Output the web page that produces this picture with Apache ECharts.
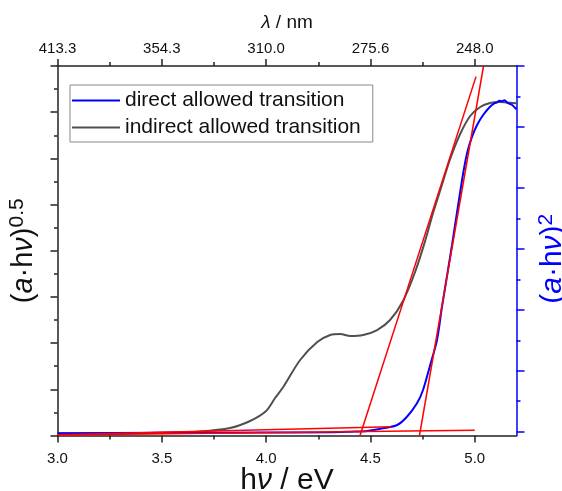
<!DOCTYPE html>
<html><head><meta charset="utf-8">
<script src="https://cdn.jsdelivr.net/npm/echarts@6/dist/echarts.min.js"></script>
<style>html,body{margin:0;padding:0;background:#fff}#c{width:562px;height:491px}</style>
</head><body><div id="c"></div>
<script>
const xMajor = [3.0, 3.5, 4.0, 4.5, 5.0];
const xMinor = [3.25, 3.75, 4.25, 4.75];
const topLabels = ['413.3', '354.3', '310.0', '275.6', '248.0'];
const rightMajor = [0, 1, 2, 3, 4, 5, 6];
const rightMinor = [0.5, 1.5, 2.5, 3.5, 4.5, 5.5];

// indirect allowed transition, (a·hν)^0.5 (left axis)
const indirectX = [3.000,3.252,3.501,3.683,3.827,3.923,4.000,4.043,4.082,4.163,4.245,4.307,4.355,4.403,4.465,4.532,4.594,4.656,4.714,4.762,4.800,4.838,4.882,4.930,4.978,5.026,5.073,5.121,5.169,5.200];
const indirectY = [0.043,0.048,0.058,0.087,0.162,0.314,0.530,0.812,1.050,1.635,2.024,2.176,2.197,2.154,2.176,2.284,2.500,2.912,3.540,4.211,4.817,5.358,5.986,6.527,6.917,7.112,7.199,7.220,7.205,7.192];
// direct allowed transition, (a·hν)^2 (right axis)
const directX = [3.000,3.490,3.970,4.307,4.403,4.484,4.560,4.628,4.675,4.723,4.752,4.784,4.819,4.843,4.891,4.939,4.963,4.987,5.011,5.040,5.073,5.095,5.107,5.118,5.131,5.143,5.155,5.179,5.200];
const directY = [-0.026,-0.018,-0.013,-0.010,0.000,0.012,0.056,0.110,0.246,0.466,0.685,1.067,1.505,2.051,3.064,4.130,4.568,4.840,5.032,5.196,5.332,5.390,5.405,5.430,5.421,5.440,5.398,5.360,5.290];
// fit lines
const indTanX = [4.45, 5.006], indTanY = [0, 7.77];
const indBaseX = [3.0, 4.6], indBaseY = [0.017, 0.190];
const dirTanX = [4.735, 5.042], dirTanY = [-0.062, 6.0];
const dirBaseX = [3.0, 5.0], dirBaseY = [-0.054, 0.025];

const pairs = (xs, ys) => xs.map((x, i) => [x, ys[i]]);
const FF = 'Liberation Sans, Arial, sans-serif';
const AX = '#222';
const BLUE = '#0000ff';

const chart = echarts.init(document.getElementById('c'), null, {renderer: 'canvas'});
const G = {left: 57.5, right: 45.5, top: 66, bottom: 55.5, containLabel: false, outerBoundsMode: 'none'};
const baseX = {type: 'value', min: 3, max: 5.2, splitLine: {show: false}, nameMoveOverlap: false};
const tickStyle = c => ({color: c, width: 1.5});
chart.setOption({
  animation: false,
  backgroundColor: '#fff',
  grid: [Object.assign({}, G), Object.assign({}, G)],
  legend: {
    left: 70, top: 85, orient: 'vertical',
    data: [
      {name: 'direct allowed transition', icon: 'rect'},
      {name: 'indirect allowed transition', icon: 'rect'}
    ],
    itemWidth: 48, itemHeight: 2, itemGap: 6,
    padding: [5, 12, 4, 2],
    borderColor: '#888', borderWidth: 1,
    textStyle: {fontFamily: FF, fontSize: 21, lineHeight: 20, color: '#111'}
  },
  xAxis: [
    Object.assign({}, baseX, {
      gridIndex: 0, position: 'bottom',
      axisLine: {onZero: false, lineStyle: tickStyle(AX)},
      axisTick: {customValues: xMajor, length: 7, lineStyle: tickStyle(AX)},
      axisLabel: {customValues: xMajor, formatter: v => v.toFixed(1), margin: 16, fontSize: 15, fontFamily: FF, color: '#111'},
      name: '{n|h}{i|ν} / eV', nameLocation: 'middle', nameGap: 30,
      nameTextStyle: {fontSize: 30, fontFamily: FF, color: '#111', rich: {n: {fontSize: 30, fontFamily: FF}, i: {fontSize: 30, fontStyle: 'italic', fontFamily: FF}}}
    }),
    Object.assign({}, baseX, {
      gridIndex: 0, position: 'top',
      axisLine: {onZero: false, lineStyle: tickStyle(AX)},
      axisTick: {customValues: xMajor, length: 7, lineStyle: tickStyle(AX)},
      axisLabel: {customValues: xMajor, formatter: v => topLabels[xMajor.findIndex(m => Math.abs(m - v) < 1e-6)], margin: 10, fontSize: 15, fontFamily: FF, color: '#111'},
      name: '{i|λ} / nm', nameLocation: 'middle', nameGap: 34,
      nameTextStyle: {fontSize: 19, fontFamily: FF, color: '#111', rich: {i: {fontSize: 19, fontStyle: 'italic', fontFamily: FF}}}
    }),
    Object.assign({}, baseX, {
      gridIndex: 1, position: 'bottom', axisLine: {show: false, onZero: false},
      axisTick: {customValues: xMinor, length: 4, lineStyle: tickStyle(AX)},
      axisLabel: {show: false}
    }),
    Object.assign({}, baseX, {
      gridIndex: 1, position: 'top', axisLine: {show: false, onZero: false},
      axisTick: {customValues: xMinor, length: 4, lineStyle: tickStyle(AX)},
      axisLabel: {show: false}
    })
  ],
  yAxis: [
    {
      gridIndex: 0, type: 'value', min: 0, max: 8, interval: 1, position: 'left', nameMoveOverlap: false,
      axisLine: {onZero: false, lineStyle: tickStyle(AX)},
      axisTick: {length: 7, lineStyle: tickStyle(AX)},
      minorTick: {show: true, splitNumber: 2, length: 3.5, lineStyle: tickStyle(AX)},
      axisLabel: {show: false}, splitLine: {show: false},
      name: '({i|a}·h{i|ν}){sup|0.5}', nameLocation: 'middle', nameGap: 17,
      nameTextStyle: {fontSize: 29, fontFamily: FF, color: '#111', rich: {
        i: {fontSize: 29, fontStyle: 'italic', fontFamily: FF},
        sup: {fontSize: 21, fontFamily: FF, verticalAlign: 'top', lineHeight: 34}
      }}
    },
    {
      gridIndex: 0, type: 'value', min: -0.062, max: 6, position: 'right', nameMoveOverlap: false,
      axisLine: {onZero: false, lineStyle: tickStyle(BLUE)},
      axisTick: {customValues: rightMajor, length: 8, lineStyle: tickStyle(BLUE)},
      axisLabel: {show: false}, splitLine: {show: false},
      name: '({i|a}·h{i|ν}){sup|2}', nameLocation: 'middle', nameGap: 19,
      nameTextStyle: {fontSize: 30, fontFamily: FF, color: BLUE, padding: [0, 16, 0, 0], rich: {
        i: {fontSize: 30, fontStyle: 'italic', fontFamily: FF, color: BLUE},
        sup: {fontSize: 21, fontFamily: FF, verticalAlign: 'top', lineHeight: 34, color: BLUE}
      }}
    },
    {
      gridIndex: 1, type: 'value', min: -0.062, max: 6, position: 'right',
      axisLine: {show: false, onZero: false},
      axisTick: {customValues: rightMinor, length: 4, lineStyle: tickStyle(BLUE)},
      axisLabel: {show: false}, splitLine: {show: false}
    }
  ],
  series: [
    {name: 'indirect allowed transition', type: 'line', xAxisIndex: 0, yAxisIndex: 0, data: pairs(indirectX, indirectY),
     symbol: 'none', smooth: 0.3, lineStyle: {color: '#505050', width: 2}, itemStyle: {color: '#505050'}, z: 2},
    {name: 'direct allowed transition', type: 'line', xAxisIndex: 0, yAxisIndex: 1, data: pairs(directX, directY),
     symbol: 'none', smooth: 0.3, lineStyle: {color: BLUE, width: 2}, itemStyle: {color: BLUE}, z: 3},
    {name: 'fit1', type: 'line', xAxisIndex: 0, yAxisIndex: 0, data: pairs(indTanX, indTanY), symbol: 'none', lineStyle: {color: '#ff0000', width: 1.5}, z: 4},
    {name: 'fit2', type: 'line', xAxisIndex: 0, yAxisIndex: 0, data: pairs(indBaseX, indBaseY), symbol: 'none', lineStyle: {color: '#ff0000', width: 1.5}, z: 4},
    {name: 'fit3', type: 'line', xAxisIndex: 0, yAxisIndex: 1, data: pairs(dirTanX, dirTanY), symbol: 'none', lineStyle: {color: '#ff0000', width: 1.5}, z: 4},
    {name: 'fit4', type: 'line', xAxisIndex: 0, yAxisIndex: 1, data: pairs(dirBaseX, dirBaseY), symbol: 'none', lineStyle: {color: '#ff0000', width: 1.5}, z: 4}
  ]
});
</script></body></html>
